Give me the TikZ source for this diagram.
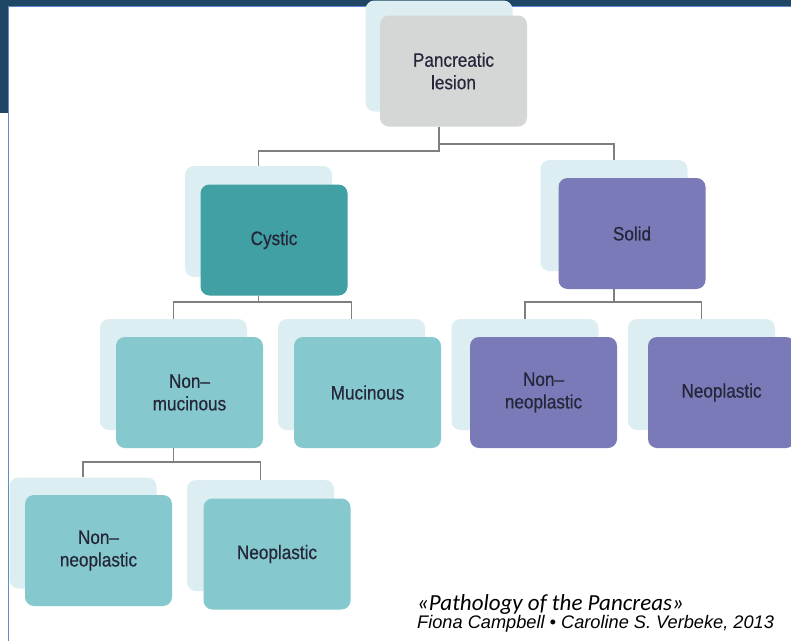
\documentclass[tikz,border=0pt]{standalone}
\usepackage{fontspec}
\setmainfont{Liberation Sans}
\newfontfamily\boxfont[FakeStretch=0.88,FakeBold=0.5]{Liberation Sans}
\newfontfamily\capfont{Carlito}
\definecolor{navy}{HTML}{1F4765}
\definecolor{frameblue}{HTML}{5B8BD0}
\definecolor{shadowc}{HTML}{DCEEF1}
\definecolor{greyc}{HTML}{D5D6D6}
\definecolor{darkteal}{HTML}{40A0A4}
\definecolor{lightteal}{HTML}{85C9CE}
\definecolor{purplec}{HTML}{7A7AB8}
\definecolor{linec}{HTML}{7F7F7F}
\definecolor{textc}{HTML}{26263A}
\tikzset{
  boxbase/.style={rectangle, rounded corners=9pt, inner sep=0pt, minimum width=147pt, minimum height=111pt},
  shadowbox/.style={boxbase, fill=shadowc},
  mainbox/.style={boxbase, fill=#1, text=textc, align=center,
     font=\boxfont\fontsize{19.5}{22.5}\selectfont},
  conn/.style={draw=linec, line width=1.3pt}
}
\begin{document}
\begin{tikzpicture}[x=1pt,y=-1pt]
\useasboundingbox (0,0) rectangle (791,641);
\fill[white] (0,0) rectangle (791,641);
% frame
\fill[navy] (0,0) rectangle (791,6);
\fill[navy] (0,0) rectangle (8,113);
\draw[frameblue, line width=1pt] (8.5,641) -- (8.5,6.5) -- (791,6.5);

% shadows
\node[shadowbox] (s1) at (439,56) {};
\node[shadowbox] (s2) at (258.5,221.5) {};
\node[shadowbox] (s3) at (614,215.5) {};
\node[shadowbox] (s4) at (173.5,374.5) {};
\node[shadowbox] (s5) at (351.5,374.5) {};
\node[shadowbox] (s6) at (525,374.5) {};
\node[shadowbox] (s7) at (701.5,374.5) {};
\node[shadowbox] (s8) at (83,533) {};
\node[shadowbox] (s9) at (260.5,535.5) {};

% main boxes
\node[mainbox=greyc] (n1) at (453.5,71) {Pancreatic\\lesion};
\node[mainbox=darkteal] (n2) at (274,240) {Cystic};
\node[mainbox=purplec] (n3) at (632,233.5) {Solid};
\node[mainbox=lightteal] (n4) at (189.5,392.5) {Non–\\mucinous};
\node[mainbox=lightteal] (n5) at (367.5,392.5) {Mucinous};
\node[mainbox=purplec] (n6) at (543.5,392.5) {Non–\\neoplastic};
\node[mainbox=purplec] (n7) at (721.5,392.5) {Neoplastic};
\node[mainbox=lightteal] (n8) at (98.5,550.5) {Non–\\neoplastic};
\node[mainbox=lightteal] (n9) at (277,554) {Neoplastic};

% connectors
\coordinate (j1) at (s1.south |- 0,151);
\coordinate (j1r) at (s1.south |- 0,144);
\draw[conn] (s1.south |- n1.south) -- (j1) -| (s2.north);
\draw[conn] (j1r) -| (s3.north);

\coordinate (j2) at (s2.south |- 0,302);
\draw[conn] (s2.south |- n2.south) -- (j2) -| (s4.north);
\draw[conn] (j2) -| (s5.north);

\coordinate (j3) at (s3.south |- 0,302);
\draw[conn] (s3.south |- n3.south) -- (j3) -| (s6.north);
\draw[conn] (j3) -| (s7.north);

\coordinate (j4) at (s4.south |- 0,462);
\draw[conn] (s4.south |- n4.south) -- (j4) -| (s8.north);
\draw[conn] (j4) -| (s9.north);

% caption
\node[anchor=base west, inner sep=0pt, font=\capfont\itshape\fontsize{23}{25}\selectfont] (cap1) at (417,610) {«Pathology of the Pancreas»};
\node[anchor=base west, inner sep=0pt, font=\itshape\fontsize{18.2}{20}\selectfont] (cap2) at (417,628) {Fiona Campbell • Caroline S. Verbeke, 2013};
\end{tikzpicture}
\end{document}
